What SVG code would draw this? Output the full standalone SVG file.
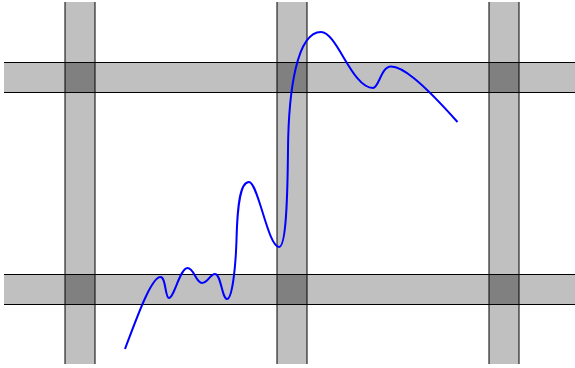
<svg xmlns="http://www.w3.org/2000/svg" width="575" height="368" viewBox="0 0 575 368">
<style>
.band{fill:#c0c0c0;stroke:none}
.edge{stroke:#000;stroke-width:1;fill:none}
.cross{fill:#808080;stroke:#000;stroke-width:1}
.curve{fill:none;stroke:#0000ff;stroke-width:2;stroke-linejoin:round;stroke-linecap:butt}
</style>
<rect width="575" height="368" fill="#fff"/>
<g id="vbands">
<rect class="band" x="65" y="2" width="30" height="362"/>
<rect class="band" x="277" y="2" width="30" height="362"/>
<rect class="band" x="489" y="2" width="30" height="362"/>
<path class="edge" d="M65,2V364M95,2V364M277,2V364M307,2V364M489,2V364M519,2V364"/>
</g>
<g id="hbands">
<rect class="band" x="4" y="62.5" width="575" height="30"/>
<rect class="band" x="4" y="274.5" width="575" height="30"/>
<path class="edge" d="M4,62.5H575M4,92.5H575M4,274.5H575M4,304.5H575"/>
</g>
<g id="crossings">
<rect class="cross" x="65" y="62.5" width="30" height="30"/>
<rect class="cross" x="277" y="62.5" width="30" height="30"/>
<rect class="cross" x="489" y="62.5" width="30" height="30"/>
<rect class="cross" x="65" y="274.5" width="30" height="30"/>
<rect class="cross" x="277" y="274.5" width="30" height="30"/>
<rect class="cross" x="489" y="274.5" width="30" height="30"/>
</g>
<g id="curve">
<path class="curve" d="M125,349 C136,320 151,277 160.5,277 C166,277 165,298 169,298 C174,298 180,268 187.5,268 C194,268 196,283 202,283 C208,283 210,274 215,274 C221,274 222,299 227,299 C232,299 235.5,270 236.5,240 C237.5,200 241,182 249,182 C258,182 268,247 279,247 C286,247 287.5,200 288,150 C288.5,90 297,32 321,32 C337,32 352,88 373,88 C379,88 381,66.5 391,66.5 C402,66.5 420,80 457.5,122"/>
</g>
</svg>
